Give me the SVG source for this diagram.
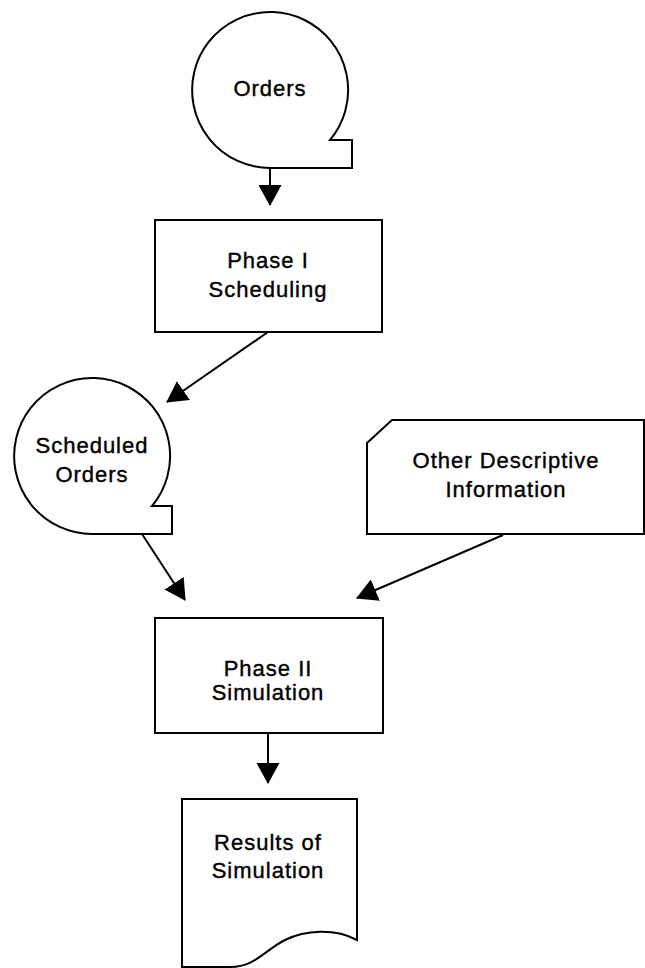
<svg xmlns="http://www.w3.org/2000/svg" width="645" height="968" viewBox="0 0 645 968">
  <style>
    .shape { fill: #ffffff; stroke: #000000; stroke-width: 2; stroke-linejoin: miter; }
    .conn { fill: none; stroke: #000000; stroke-width: 2; }
    .label { font-family: "Liberation Sans", Arial, sans-serif; font-size: 22px; letter-spacing: 1px; fill: #000000; stroke: #000000; stroke-width: 0.4; text-anchor: middle; }
  </style>
  <defs>
    <marker id="arrow" markerUnits="userSpaceOnUse" markerWidth="21" markerHeight="23" refX="20" refY="11.5" orient="auto">
      <path d="M0,0 L21,11.5 L0,23 Z" fill="#000000"/>
    </marker>
  </defs>
  <rect x="0" y="0" width="645" height="968" fill="#ffffff"/>

  <g id="orders">
    <path class="shape" d="M270,168 A78,78 0 1 1 330,140 L352,140 L352,168 Z"/>
    <text class="label" x="270" y="96">Orders</text>
  </g>

  <g id="phase1">
    <rect class="shape" x="155" y="220" width="227" height="112"/>
    <text class="label" x="268" y="268">Phase I</text>
    <text class="label" x="268" y="297">Scheduling</text>
  </g>

  <g id="scheduled-orders">
    <path class="shape" d="M92,534 A78,78 0 1 1 152,506 L172,506 L172,534 Z"/>
    <text class="label" x="92" y="453">Scheduled</text>
    <text class="label" x="92" y="482">Orders</text>
  </g>

  <g id="other-info">
    <path class="shape" d="M392,420 L644,420 L644,534 L367,534 L367,443 Z"/>
    <text class="label" x="506" y="468">Other Descriptive</text>
    <text class="label" x="506" y="497">Information</text>
  </g>

  <g id="phase2">
    <rect class="shape" x="155" y="618" width="228" height="115"/>
    <text class="label" x="268" y="676">Phase II</text>
    <text class="label" x="268" y="700">Simulation</text>
  </g>

  <g id="results">
    <path class="shape" d="M182,799 L357,799 L357,940 C335,928 305,930 285,940 C265,950 255,967 230,967 L182,967 Z"/>
    <text class="label" x="268" y="850">Results of</text>
    <text class="label" x="268" y="878">Simulation</text>
  </g>

  <g id="connectors">
    <line class="conn" x1="270" y1="168" x2="270" y2="205" marker-end="url(#arrow)"/>
    <line class="conn" x1="268" y1="332" x2="167" y2="402" marker-end="url(#arrow)"/>
    <line class="conn" x1="142" y1="534" x2="185" y2="600" marker-end="url(#arrow)"/>
    <line class="conn" x1="503" y1="535" x2="357" y2="598" marker-end="url(#arrow)"/>
    <line class="conn" x1="268" y1="733" x2="268" y2="783" marker-end="url(#arrow)"/>
  </g>
</svg>
